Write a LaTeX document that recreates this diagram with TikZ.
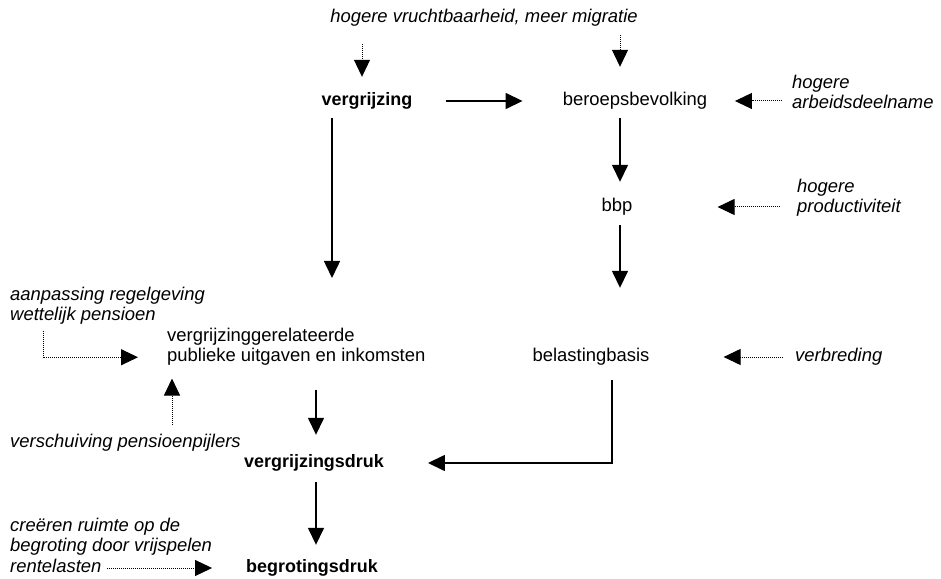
\documentclass[tikz,border=0pt]{standalone}
\usepackage{fontspec}
\setmainfont{Liberation Sans}
\usetikzlibrary{arrows.meta}

\begin{document}
\begin{tikzpicture}[x=1bp,y=-1bp,>={Triangle[length=17bp,width=16bp]},
  tekst/.style={inner sep=0pt,font=\fontsize{18.5}{21}\selectfont},
  een/.style={text height=13bp,text depth=4bp},
  post/.style={tekst,een},
  druk/.style={post,font=\fontsize{18}{21}\selectfont\bfseries},
  factor/.style={tekst,align=left,font=\fontsize{18.5}{21}\selectfont\itshape},
  pijl/.style={->,line width=1.5bp},
  stip/.style={->,line width=1bp,dash pattern=on 1bp off 1bp}]
  \useasboundingbox (0,0) rectangle (941,579);
  % kolommen van de verticale pijlen
  \coordinate (kolL) at (362,0);
  \coordinate (kolA) at (332,0);
  \coordinate (kolB) at (620,0);
  \coordinate (kolC) at (316,0);
  \coordinate (kolD) at (612,0);
  % hoofdketen
  \node[druk] (vergr) at (367,101) {vergrijzing};
  \node[post] (beroeps) at (635,101) {beroepsbevolking};
  \node[post] (bbp) at (617,207) {bbp};
  \node[post] (belbasis) at (591,357) {belastingbasis};
  \node[tekst,align=left,anchor=north west] (uitgaven) at (167,327.5) {vergrijzinggerelateerde\\publieke uitgaven en inkomsten};
  \node[druk] (vdruk) at (314,463) {vergrijzingsdruk};
  \node[druk] (bdruk) at (312,568) {begrotingsdruk};
  % beleidsfactoren (cursief)
  \node[factor,een] (demo) at (484,18) {hogere vruchtbaarheid, meer migratie};
  \node[factor,anchor=north west] (arbeid) at (792,74.5) {hogere\\arbeidsdeelname};
  \node[factor,anchor=north west] (product) at (797,178.5) {hogere\\productiviteit};
  \node[factor,een,anchor=west] (verbreding) at (795,357) {verbreding};
  \node[factor,anchor=north west] (aanpassing) at (10,286.5) {aanpassing regelgeving\\wettelijk pensioen};
  \node[factor,een,anchor=west] (verschuiving) at (10,443) {verschuiving pensioenpijlers};
  \node[factor,anchor=north west] (creeren) at (10,517.5) {creëren ruimte op de\\begroting door vrijspelen\\rentelasten};
  \coordinate (kolE) at ([xshift=5bp]uitgaven.south west);
  \coordinate (kolF) at ([xshift=33bp]aanpassing.south west);

  % doorgaande pijlen
  \draw[pijl,shorten <=33bp,shorten >=40bp] (vergr.east) -- (beroeps.west);
  \draw[pijl,shorten <=8.5bp,shorten >=49.5bp] (vergr.south -| kolA) -- (uitgaven.north -| kolA);
  \draw[pijl,shorten <=8.5bp,shorten >=16.5bp] (beroeps.south -| kolB) -- (bbp.north -| kolB);
  \draw[pijl,shorten <=9.5bp,shorten >=60.5bp] (bbp.south -| kolB) -- (belbasis.north -| kolB);
  \draw[pijl,shorten <=23.5bp,shorten >=19.5bp] (uitgaven.south -| kolC) -- (vdruk.north -| kolC);
  \draw[pijl,shorten <=14.5bp,shorten >=44bp] (belbasis.south -| kolD) |- (vdruk.east);
  \draw[pijl,shorten <=10.5bp,shorten >=14.5bp] (vdruk.south -| kolC) -- (bdruk.north -| kolC);

  % gestippelde pijlen van de beleidsfactoren
  \draw[stip,shorten <=17.5bp,shorten >=15.5bp] (demo.south -| kolL) -- (vergr.north -| kolL);
  \draw[stip,shorten <=8.5bp,shorten >=25.5bp] (demo.south -| kolB) -- (beroeps.north -| kolB);
  \draw[stip,shorten <=10bp,shorten >=27.5bp] (beroeps -| arbeid.west) -- (beroeps.east);
  \draw[stip,shorten <=17bp,shorten >=85bp] (bbp -| product.west) -- (bbp.east);
  \draw[stip,shorten <=12bp,shorten >=74bp] (belbasis -| verbreding.west) -- (belbasis.east);
  \draw[stip,shorten <=5.7bp,shorten >=29bp] (kolF) |- ([yshift=-10.5bp]uitgaven.west);
  \draw[stip,shorten <=9.5bp,shorten >=12.5bp] (kolE |- verschuiving.north) -- (kolE);
  \draw[stip,shorten <=97bp,shorten >=34bp] (bdruk.west -| creeren.west) -- (bdruk.west);
\end{tikzpicture}
\end{document}
